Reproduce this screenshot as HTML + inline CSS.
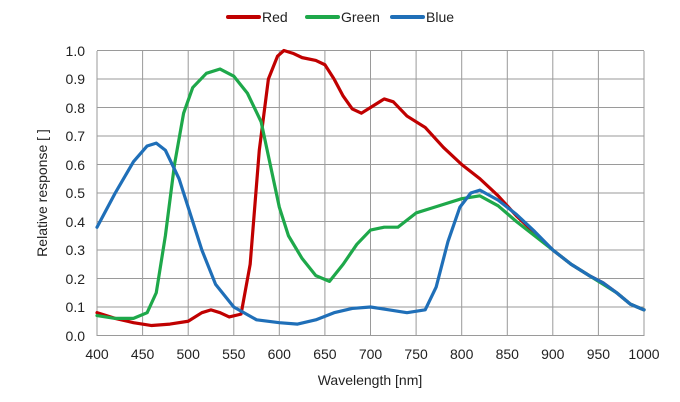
<!DOCTYPE html>
<html><head><meta charset="utf-8"><style>
body{margin:0;background:#fff;}
svg{display:block;font-family:"Liberation Sans",Arial,sans-serif;}
</style></head><body>
<svg width="680" height="402" xmlns="http://www.w3.org/2000/svg">
<g stroke="#9a9a9a" stroke-width="1">
<line x1="97" y1="51" x2="97" y2="336"/><line x1="142.6" y1="51" x2="142.6" y2="336"/><line x1="188.2" y1="51" x2="188.2" y2="336"/><line x1="233.8" y1="51" x2="233.8" y2="336"/><line x1="279.3" y1="51" x2="279.3" y2="336"/><line x1="324.9" y1="51" x2="324.9" y2="336"/><line x1="370.5" y1="51" x2="370.5" y2="336"/><line x1="416.1" y1="51" x2="416.1" y2="336"/><line x1="461.7" y1="51" x2="461.7" y2="336"/><line x1="507.3" y1="51" x2="507.3" y2="336"/><line x1="552.8" y1="51" x2="552.8" y2="336"/><line x1="598.4" y1="51" x2="598.4" y2="336"/><line x1="644" y1="51" x2="644" y2="336"/>
<line x1="97" y1="50.5" x2="644" y2="50.5"/><line x1="97" y1="79" x2="644" y2="79"/><line x1="97" y1="107.5" x2="644" y2="107.5"/><line x1="97" y1="136" x2="644" y2="136"/><line x1="97" y1="164.5" x2="644" y2="164.5"/><line x1="97" y1="193" x2="644" y2="193"/><line x1="97" y1="221.5" x2="644" y2="221.5"/><line x1="97" y1="250" x2="644" y2="250"/><line x1="97" y1="278.5" x2="644" y2="278.5"/><line x1="97" y1="307" x2="644" y2="307"/><line x1="97" y1="335.5" x2="644" y2="335.5"/>
</g>
<g font-size="14" fill="#222" text-anchor="end">
<text x="85" y="56">1.0</text><text x="85" y="84">0.9</text><text x="85" y="113">0.8</text><text x="85" y="141">0.7</text><text x="85" y="170">0.6</text><text x="85" y="198">0.5</text><text x="85" y="227">0.4</text><text x="85" y="255">0.3</text><text x="85" y="284">0.2</text><text x="85" y="312">0.1</text><text x="85" y="341">0.0</text>
</g>
<g font-size="14" fill="#222" text-anchor="middle">
<text x="97" y="359">400</text><text x="142.6" y="359">450</text><text x="188.2" y="359">500</text><text x="233.8" y="359">550</text><text x="279.3" y="359">600</text><text x="324.9" y="359">650</text><text x="370.5" y="359">700</text><text x="416.1" y="359">750</text><text x="461.7" y="359">800</text><text x="507.3" y="359">850</text><text x="552.8" y="359">900</text><text x="598.4" y="359">950</text><text x="644" y="359">1000</text>
<text x="370" y="385">Wavelength [nm]</text>
<text transform="translate(47,193) rotate(-90)">Relative response [ ]</text>
</g>
<g transform="translate(97,335.5) scale(0.9117,-285) translate(-400,0)" fill="none" stroke-width="3.2" stroke-linejoin="round" stroke-linecap="round">
<polyline vector-effect="non-scaling-stroke" stroke="#c00000" points="400,.08 420,.06 440,.045 460,.035 480,.04 500,.05 515,.08 525,.09 535,.08 545,.065 558,.075 568,.25 578,.65 588,.9 598,.98 605,1 615,.99 625,.975 640,.965 650,.95 660,.9 670,.84 680,.795 690,.78 700,.8 715,.83 725,.82 740,.77 760,.73 780,.66 800,.6 820,.55 840,.49 860,.42 880,.36 900,.3 920,.25 940,.21 955,.185 970,.15 985,.11 1000,.09"/>
<polyline vector-effect="non-scaling-stroke" stroke="#1ea84a" points="400,.07 420,.06 440,.06 455,.08 465,.15 475,.35 485,.6 495,.78 505,.87 520,.92 535,.935 550,.91 565,.85 580,.75 590,.6 600,.45 610,.35 625,.27 640,.21 655,.19 670,.25 685,.32 700,.37 715,.38 730,.38 750,.43 770,.45 800,.48 820,.49 840,.455 860,.4 880,.35 900,.3 920,.25 940,.21 955,.18 970,.15 985,.11 1000,.09"/>
<polyline vector-effect="non-scaling-stroke" stroke="#1f6fb8" points="400,.38 420,.5 440,.61 455,.665 465,.675 475,.65 490,.55 500,.45 515,.3 530,.18 550,.1 575,.055 600,.045 620,.04 640,.055 660,.08 680,.095 700,.1 720,.09 740,.08 760,.09 772,.17 785,.33 798,.45 810,.5 820,.51 840,.475 860,.425 880,.365 900,.3 920,.25 940,.21 955,.185 970,.15 985,.11 1000,.09"/>
</g>
<g stroke-width="4" stroke-linecap="round">
<line x1="228" y1="17" x2="259" y2="17" stroke="#c00000"/>
<line x1="307" y1="17" x2="338" y2="17" stroke="#1ea84a"/>
<line x1="392" y1="17" x2="423" y2="17" stroke="#1f6fb8"/>
</g>
<g font-size="14" fill="#222">
<text x="262" y="22">Red</text><text x="341" y="22">Green</text><text x="426" y="22">Blue</text>
</g>
</svg>
</body></html>
